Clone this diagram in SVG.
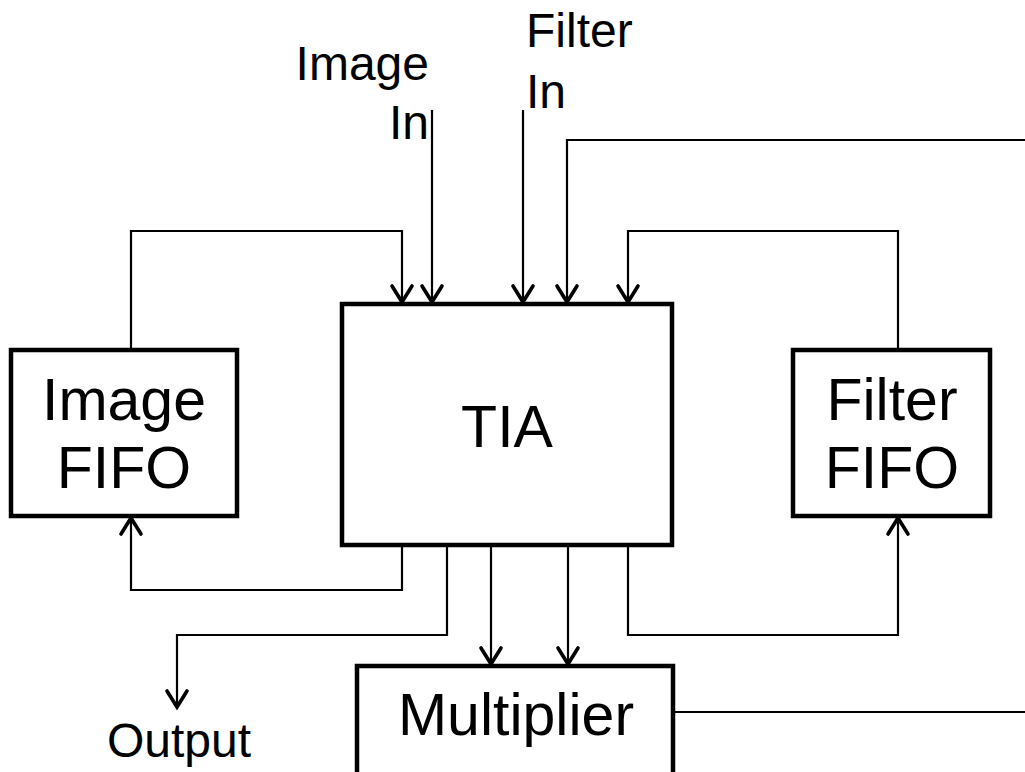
<svg xmlns="http://www.w3.org/2000/svg" width="1025" height="772" viewBox="0 0 1025 772">
<style>
.box{fill:#fff;stroke:#000;stroke-width:4.5}
.lbl{font-family:"Liberation Sans",Arial,sans-serif;fill:#000}
.big{font-size:59px;text-anchor:middle}
.sm{font-size:48px}
.c{fill:none;stroke:#000;stroke-width:2.2}
</style>
<defs>
<marker id="ah" markerUnits="userSpaceOnUse" viewBox="-22 -14 28 28" markerWidth="28" markerHeight="28" refX="0" refY="0" orient="auto">
<path d="M-16,-10 L0,0 L-16,10" fill="none" stroke="#000" stroke-width="3.6" stroke-linecap="round" stroke-linejoin="miter"/>
</marker>
</defs>
<g id="connectors">
<path class="c" d="M131,350 V231 H402 V302" marker-end="url(#ah)"/>
<path class="c" d="M432,110 V302" marker-end="url(#ah)"/>
<path class="c" d="M523,110 V302" marker-end="url(#ah)"/>
<path class="c" d="M1025,140 H567 V302" marker-end="url(#ah)"/>
<path class="c" d="M898,350 V231 H628 V302" marker-end="url(#ah)"/>
<path class="c" d="M402,545 V590 H131 V518" marker-end="url(#ah)"/>
<path class="c" d="M447,545 V635 H177 V707" marker-end="url(#ah)"/>
<path class="c" d="M491,545 V664" marker-end="url(#ah)"/>
<path class="c" d="M568,545 V664" marker-end="url(#ah)"/>
<path class="c" d="M628,545 V635 H898 V518" marker-end="url(#ah)"/>
<path class="c" d="M673,712 H1025"/>
</g>
<g id="tia">
<rect class="box" x="342" y="304" width="330" height="241"/>
<text class="lbl big" x="507" y="447">TIA</text>
</g>
<g id="image-fifo">
<rect class="box" x="11" y="350" width="226" height="166"/>
<text class="lbl big" x="124" y="420">Image</text>
<text class="lbl big" x="124" y="488">FIFO</text>
</g>
<g id="filter-fifo">
<rect class="box" x="793" y="350" width="197" height="166"/>
<text class="lbl big" x="892" y="420">Filter</text>
<text class="lbl big" x="892" y="488">FIFO</text>
</g>
<g id="multiplier">
<rect class="box" x="357" y="666" width="316" height="110"/>
<text class="lbl big" x="516" y="735">Multiplier</text>
</g>
<g id="image-in">
<text class="lbl sm" x="429" y="80" text-anchor="end">Image</text>
<text class="lbl sm" x="429" y="139" text-anchor="end">In</text>
</g>
<g id="filter-in">
<text class="lbl sm" x="526" y="47">Filter</text>
<text class="lbl sm" x="526" y="108">In</text>
</g>
<g id="output">
<text class="lbl sm" x="179" y="757" text-anchor="middle">Output</text>
</g>
</svg>
